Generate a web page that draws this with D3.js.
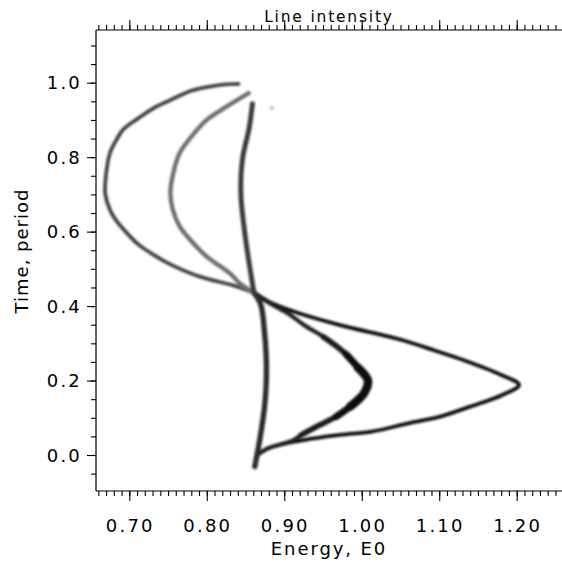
<!DOCTYPE html>
<html>
<head>
<meta charset="utf-8">
<script src="https://cdn.jsdelivr.net/npm/d3@7"></script>
<style>
  body { margin: 0; background: #fff; }
  svg { display: block; }
  text { font-family: "DejaVu Sans", sans-serif; fill: #000; }
</style>
</head>
<body>
<svg id="chart" width="562" height="564"></svg>
<script>
// energy (E0) vs time (period) for the three traced components
const outerTime = [0.000, 0.018, 0.040, 0.054, 0.063, 0.085, 0.103, 0.130, 0.160, 0.188, 0.215, 0.255, 0.280, 0.309, 0.349, 0.380, 0.412, 0.435,
                   0.455, 0.479, 0.510, 0.533, 0.565, 0.596, 0.630, 0.659, 0.700, 0.730, 0.770, 0.811, 0.845, 0.874, 0.905, 0.936, 0.960, 0.977, 0.988, 0.995, 0.997];
const outerEnergy = [0.865, 0.879, 0.925, 0.972, 1.013, 1.060, 1.101, 1.140, 1.180, 1.203, 1.180, 1.131, 1.095, 1.052, 0.972, 0.920, 0.880, 0.862,
                     0.835, 0.791, 0.755, 0.735, 0.712, 0.697, 0.683, 0.675, 0.669, 0.669, 0.671, 0.675, 0.683, 0.692, 0.712, 0.735, 0.760, 0.778, 0.800, 0.821, 0.841];

const middleTime = [0.000, 0.018, 0.040, 0.054, 0.080, 0.103, 0.130, 0.166, 0.200, 0.235, 0.270, 0.296, 0.318, 0.350, 0.380, 0.412, 0.435,
                    0.460, 0.488, 0.533, 0.575, 0.614, 0.660, 0.703, 0.750, 0.811, 0.860, 0.900, 0.935, 0.972];
const middleEnergy = [0.865, 0.879, 0.912, 0.922, 0.945, 0.967, 0.985, 1.003, 1.008, 0.995, 0.980, 0.965, 0.950, 0.925, 0.905, 0.878, 0.862,
                      0.843, 0.830, 0.800, 0.780, 0.765, 0.756, 0.753, 0.756, 0.765, 0.782, 0.800, 0.825, 0.854];

const innerTime = [-0.031, 0.049, 0.139, 0.228, 0.318, 0.408, 0.435, 0.524, 0.614, 0.703, 0.793, 0.882, 0.945];
const innerEnergy = [0.862, 0.869, 0.875, 0.877, 0.875, 0.869, 0.861, 0.854, 0.848, 0.844, 0.846, 0.855, 0.859];

const strayPoint = [0.884, 0.932];

const xTicks = [0.70, 0.80, 0.90, 1.00, 1.10, 1.20];
const yTicks = [0.0, 0.2, 0.4, 0.6, 0.8, 1.0];
const crossTime = 0.435;

const svg = d3.select('#chart');
const plotLeft = 96, plotTop = 30, plotBottom = 491, plotRight = 562;

const x = d3.scaleLinear().domain([0.70, 1.20]).range([129.3, 516.7]);
const y = d3.scaleLinear().domain([0.0, 1.0]).range([455, 82.7]);

const defs = svg.append('defs');
defs.append('filter').attr('id', 'soft')
    .attr('x', '-10%').attr('y', '-10%').attr('width', '120%').attr('height', '120%')
    .append('feGaussianBlur').attr('stdDeviation', 0.9);
defs.append('clipPath').attr('id', 'plotclip')
    .append('rect').attr('x', plotLeft).attr('y', plotTop)
    .attr('width', plotRight - plotLeft).attr('height', plotBottom - plotTop);

const pts = (ts, es) => ts.map((t, i) => [es[i], t]);
const line = d3.line()
    .x(d => x(d[0]))
    .y(d => y(d[1]))
    .curve(d3.curveCatmullRom);

const marks = svg.append('g').attr('clip-path', 'url(#plotclip)')
    .append('g').attr('filter', 'url(#soft)');

function drawPart(data, color, width, dash) {
    const p = marks.append('path')
        .datum(data)
        .attr('d', line)
        .attr('fill', 'none')
        .attr('stroke', color)
        .attr('stroke-width', width)
        .attr('stroke-linejoin', 'round')
        .attr('stroke-linecap', 'round');
    if (dash) p.attr('stroke-dasharray', dash);
}

const outer = pts(outerTime, outerEnergy);
const middle = pts(middleTime, middleEnergy);
const inner = pts(innerTime, innerEnergy);

drawPart(outer.filter(d => d[1] <= crossTime), '#111', 3.8);
drawPart(outer.filter(d => d[1] >= crossTime), '#444', 3.8);
drawPart(middle.filter(d => d[1] <= crossTime), '#222', 4.2);
drawPart(middle.filter(d => d[1] >= 0.054 && d[1] <= 0.318), '#1a1a1a', 5.5);
drawPart(middle.filter(d => d[1] >= 0.103 && d[1] <= 0.270), '#111', 7);
drawPart(middle.filter(d => d[1] >= 0.130 && d[1] <= 0.235), '#0a0a0a', 8.5);
drawPart(middle.filter(d => d[1] >= crossTime), '#707070', 4.4);
drawPart(inner.filter(d => d[1] <= crossTime), '#2a2a2a', 5.4, '2.2,1.3');
drawPart(inner.filter(d => d[1] >= crossTime), '#3a3a3a', 5, '2.2,1.3');

marks.append('circle')
    .attr('cx', x(strayPoint[0]))
    .attr('cy', y(strayPoint[1]))
    .attr('r', 2)
    .attr('fill', '#bbb');

// frame
const frame = svg.append('g').attr('stroke', '#000').attr('stroke-width', 1.2);
frame.append('line').attr('x1', plotLeft).attr('x2', plotRight).attr('y1', plotTop).attr('y2', plotTop);
frame.append('line').attr('x1', plotLeft).attr('x2', plotRight).attr('y1', plotBottom).attr('y2', plotBottom);
frame.append('line').attr('x1', plotLeft).attr('x2', plotLeft).attr('y1', plotTop).attr('y2', plotBottom);

// ticks
const xMinor = d3.range(66, 126).map(v => v / 100);
const yMinor = d3.range(-1, 23).map(v => v * 0.05);

function axisTicks(axis, vals, len) {
    axis.tickValues(vals).tickSize(len).tickSizeOuter(0).tickFormat('');
    return axis;
}

svg.append('g').attr('transform', `translate(0,${plotBottom})`)
    .call(axisTicks(d3.axisBottom(x), xMinor, 5)).call(g => g.select('.domain').remove());
svg.append('g').attr('transform', `translate(0,${plotTop})`)
    .call(axisTicks(d3.axisTop(x), xMinor, 5)).call(g => g.select('.domain').remove());
svg.append('g').attr('transform', `translate(0,${plotBottom})`)
    .call(axisTicks(d3.axisBottom(x), xTicks, 10)).call(g => g.select('.domain').remove());
svg.append('g').attr('transform', `translate(0,${plotTop})`)
    .call(axisTicks(d3.axisTop(x), xTicks, 10)).call(g => g.select('.domain').remove());
svg.append('g').attr('transform', `translate(${plotLeft},0)`)
    .call(axisTicks(d3.axisLeft(y), yMinor, 5)).call(g => g.select('.domain').remove());
svg.append('g').attr('transform', `translate(${plotLeft},0)`)
    .call(axisTicks(d3.axisLeft(y), yTicks, 9)).call(g => g.select('.domain').remove());
svg.selectAll('.tick line').attr('stroke', '#000').attr('stroke-width', 1.1);

// tick labels
svg.append('g').selectAll('text')
    .data(xTicks)
    .join('text')
    .attr('x', d => x(d) + 1)
    .attr('y', 532)
    .attr('text-anchor', 'middle')
    .attr('font-size', 18)
    .attr('letter-spacing', 2.2)
    .text(d => d3.format('.2f')(d));

svg.append('g').selectAll('text')
    .data(yTicks)
    .join('text')
    .attr('x', 82)
    .attr('y', d => y(d) + 6.5)
    .attr('text-anchor', 'end')
    .attr('font-size', 18)
    .attr('letter-spacing', 2.2)
    .text(d => d3.format('.1f')(d));

// titles
svg.append('text')
    .attr('x', 329)
    .attr('y', 22)
    .attr('text-anchor', 'middle')
    .attr('font-size', 15.5)
    .attr('letter-spacing', 1.8)
    .text('Line intensity');

svg.append('text')
    .attr('x', 329)
    .attr('y', 555)
    .attr('text-anchor', 'middle')
    .attr('font-size', 18)
    .attr('letter-spacing', 1.9)
    .text('Energy, E0');

svg.append('text')
    .attr('transform', 'translate(28,251) rotate(-90)')
    .attr('text-anchor', 'middle')
    .attr('font-size', 18)
    .attr('letter-spacing', 1.0)
    .text('Time, period');
</script>
</body>
</html>
